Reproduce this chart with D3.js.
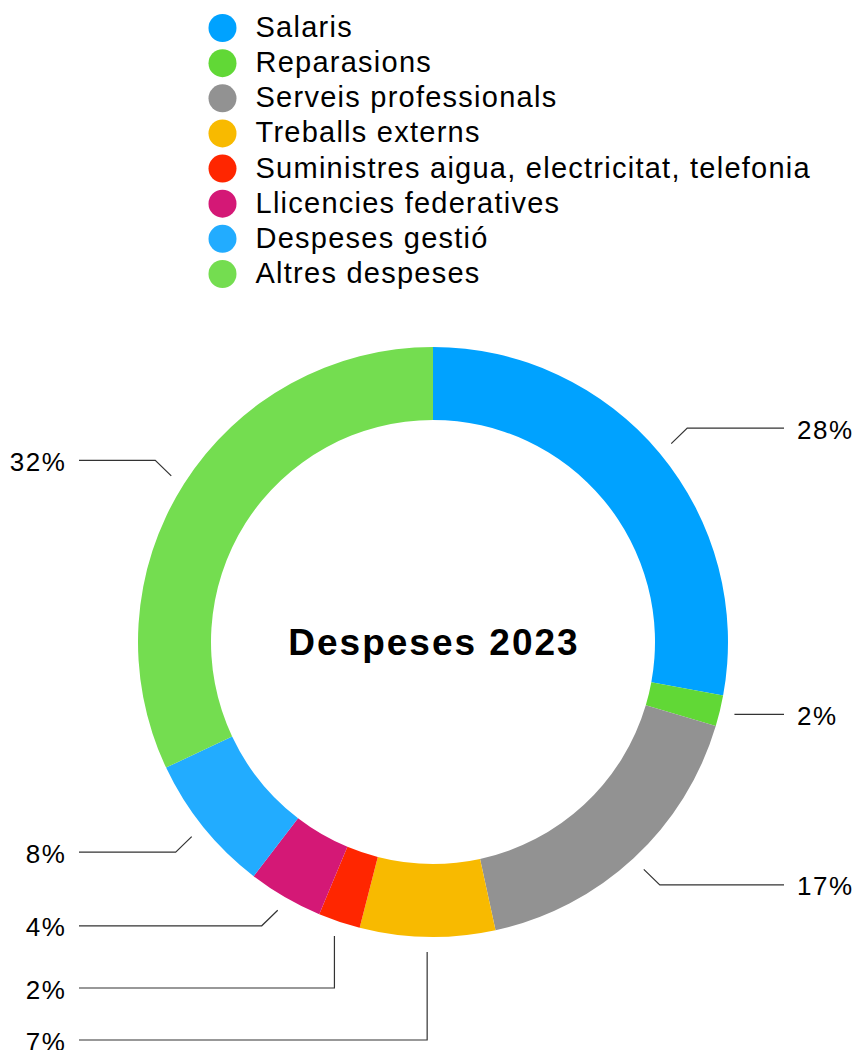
<!DOCTYPE html>
<html>
<head>
<meta charset="utf-8">
<script src="https://cdn.jsdelivr.net/npm/d3@7"></script>
<style>
  html, body { margin: 0; padding: 0; background: #ffffff; }
  svg { display: block; }
  text { font-family: "Liberation Sans", Arial, Helvetica, sans-serif; fill: #000; }
</style>
</head>
<body>
<svg id="chart" width="855" height="1050"></svg>
<script>
// ---- data ----
const categories = [
  "Salaris",
  "Reparasions",
  "Serveis professionals",
  "Treballs externs",
  "Suministres aigua, electricitat, telefonia",
  "Llicencies federatives",
  "Despeses gestió",
  "Altres despeses"
];
const values = [27.9, 1.7, 17.0, 7.4, 2.3, 4.1, 7.6, 32.0];
const colors = ["#00A2FF", "#61D836", "#929292", "#F8BA00", "#FF2600", "#D41876", "#22ACFF", "#74DD50"];
const title = "Despeses 2023";

// ---- layout ----
const W = 855, H = 1050;
const cx = 433, cy = 642;
const outerR = 295, innerR = 222;
const leaderR = 310;
const labelBottom = 1040, labelGap = 52;

const svg = d3.select("#chart");

// legend
const legendY = d3.scalePoint().domain(categories).range([28, 274]);
const legend = svg.append("g");
categories.forEach((c, i) => {
  const y = legendY(c);
  legend.append("circle").attr("cx", 222.5).attr("cy", y).attr("r", 14).attr("fill", colors[i]);
  legend.append("text").attr("x", 255.5).attr("y", y + 9)
    .attr("font-size", 29).attr("letter-spacing", 1.25).text(c);
});

// donut
const total = d3.sum(values);
const pie = d3.pie().sort(null).value(d => d);
const arcs = pie(values);
const arc = d3.arc().innerRadius(innerR).outerRadius(outerR);
const g = svg.append("g").attr("transform", `translate(${cx},${cy})`);
g.selectAll("path").data(arcs).enter().append("path")
  .attr("d", arc).attr("fill", (d, i) => colors[i]);

// title
svg.append("text").attr("x", cx + 1).attr("y", 655)
  .attr("text-anchor", "middle").attr("font-size", 37).attr("font-weight", "bold")
  .attr("letter-spacing", 2.0).text(title);

// leader lines & labels
const labels = arcs.map((a, i) => {
  const th = (a.startAngle + a.endAngle) / 2;
  const sx = Math.sin(th), sy = -Math.cos(th);
  const p1 = [cx + leaderR * sx, cy + leaderR * sy];
  const side = sx >= 0 ? 1 : -1;
  let natY, diag = true;
  if (Math.abs(sy) < 0.3) { natY = p1[1]; diag = false; }
  else natY = p1[1] + (sy > 0 ? 15.5 : -15.5);
  return { i, th, p1, side, natY, y: natY, diag, pushed: false,
           text: Math.round(values[i] / total * 100) + "%" };
});

[1, -1].forEach(side => {
  const list = labels.filter(l => l.side === side).sort((a, b) => a.natY - b.natY);
  for (let k = 1; k < list.length; k++) {
    if (list[k].y < list[k - 1].y + labelGap) {
      list[k].y = list[k - 1].y + labelGap;
      list[k].pushed = true;
    }
  }
  const pushed = list.filter(l => l.pushed);
  if (pushed.length) {
    for (let k = pushed.length - 1, y = labelBottom; k >= 0; k--, y -= labelGap) pushed[k].y = y;
  }
});

const lineG = svg.append("g").attr("fill", "none").attr("stroke", "#333").attr("stroke-width", 1.2);
labels.forEach(l => {
  const endX = l.side > 0 ? 784 : 79;
  let pts;
  if (l.pushed) {
    pts = [l.p1, [l.p1[0], l.y], [endX, l.y]];
  } else if (l.diag) {
    pts = [l.p1, [l.p1[0] + l.side * 16, l.y], [endX, l.y]];
  } else {
    pts = [[l.p1[0], l.y], [endX, l.y]];
  }
  lineG.append("path").attr("d", d3.line()(pts));
  svg.append("text")
    .attr("x", l.side > 0 ? 797 : 65 + 1.6)
    .attr("y", l.y + 10.5)
    .attr("text-anchor", l.side > 0 ? "start" : "end")
    .attr("font-size", 26).attr("letter-spacing", 1.6)
    .text(l.text);
});
</script>
</body>
</html>
